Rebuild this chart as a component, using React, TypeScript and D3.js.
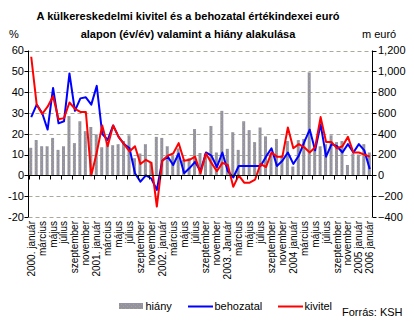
import React from "react";
import * as d3 from "d3";

const categories = [
  "2000. január","február","március","április","május","június","július","augusztus","szeptember","október","november","december",
  "2001. január","február","március","április","május","június","július","augusztus","szeptember","október","november","december",
  "2002. január","február","március","április","május","június","július","augusztus","szeptember","október","november","december",
  "2003. Január","február","március","április","május","június","július","augusztus","szeptember","október","november","december",
  "2004 január","február","március","április","május","június","július","augusztus","szeptember","október","november","december",
  "2005 január","2005 december","2006 január",
];

// hiány, m euró (right axis)
const hiany = [
  265, 340, 280, 280, 360, 245, 280, 570, 310, 520, 425, 465,
  395, 270, 320, 290, 300, 330, 385, 165, 210, 300, 130, 370,
  360, 280, 195, 260, 150, 165, 445, 215, 210, 475, 220, 620,
  255, 415, 245, 520, 435, 320, 460, 375, 210, 350, 180, 330,
  85, 340, 350, 990, 245, 280, 300, 385, 320, 330, 100, 210,
  200, 300, 220,
];

// behozatal, % (left axis)
const behozatal = [
  28, 34, 30, 22, 42, 25, 26, 49, 31, 37, 37.5, 34,
  43, 20, 17, 24, 18.5, 15, 13, 1, -3, 0, -1.5, -7,
  7, 9, 5, 10.5, 1, 3.5, 6.5, 2, 11, 9.5, 4, 11,
  2, -1, 4.5, 4.5, 4.5, 4.5, 4.5, 9, 13, 4.5, 7, 11,
  5.5, 9.5, 16, 22, 12, 24.5, 9, 15, 14, 11, 15, 11,
  15, 12, 3,
];

// kivitel, % (left axis)
const kivitel = [
  57, 34, 29.5, 33, 38, 27, 27.5, 35, 32, 30.5, 30.5, 0,
  11, 24, 14, 24, 18.5, 15, 11.5, 14, 5.5, 7.5, 6, -15,
  7, 9.5, 10.5, 15.5, 7, 7.5, 9, 1, 10.5, 6, 2, 6,
  5, -5.5, 0, -3.5, -3.5, -2, 5.5, 4, 11, 9, 9, 23,
  13, 15, 13.5, 11, 13.5, 28, 16, 16, 13, 14, 18.5, 11,
  11, 10, 9,
];

const leftTicks = [60, 50, 40, 30, 20, 10, 0, -10, -20];
const rightTicks = [1200, 1000, 800, 600, 400, 200, 0, -200, -400];
const titleLines = [
  "A külkereskedelmi kivitel és a behozatal értékindexei euró",
  "alapon (év/év) valamint a hiány alakulása",
];
const legendItems = ["hiány", "behozatal", "kivitel"];

const FONT = "'Liberation Sans', Arial, sans-serif";

export default function App() {
  const W = 414, H = 322;
  const left = 28.5, right = 372.5, top = 50.5, bottom = 217;
  const idx = d3.range(categories.length);
  const x = d3.scaleBand<number>().domain(idx).range([left, right]).padding(0);
  const step = x.step();
  const cx = (i: number) => (x(i) as number) + step / 2;
  const yL = d3.scaleLinear().domain([-20, 60]).range([bottom, top]);
  const yR = d3.scaleLinear().domain([-400, 1200]).range([bottom, top]);
  const y0 = yL(0);
  const barW = 3;

  const line = d3.line<number>().x((_, i) => cx(i)).y((v) => yL(v));

  const tickIdx = idx.filter((i) => i % 2 === 0);

  return (
    <svg width={W} height={H} style={{ position: "absolute", left: 0, top: 0, background: "#fff" }} fontFamily={FONT}>
      <defs>
        <pattern id="dots" width="4" height="4" patternUnits="userSpaceOnUse">
          <rect width="4" height="4" fill="#9393a3" />
          <rect x="1" y="0" width="1" height="1" fill="#aaa67a" />
          <rect x="3" y="2" width="1" height="1" fill="#aaa67a" />
        </pattern>
      </defs>
      <rect width={W} height={H} fill="#fff" />
      {titleLines.map((t, i) => (
        <text key={i} x={188} y={20 + i * 18} textAnchor="middle" fontSize={11} fontWeight="bold">{t}</text>
      ))}
      <text x={9} y={38} fontSize={11}>%</text>
      <text x={362} y={38} fontSize={11}>m euró</text>

      {/* gridlines */}
      {leftTicks.filter((t) => t !== 0).map((t) => (
        <line key={t} x1={left} x2={right} y1={Math.round(yL(t)) + 0.5} y2={Math.round(yL(t)) + 0.5}
          stroke="#aaa99b" strokeDasharray="4,3" />
      ))}

      {/* bars */}
      {hiany.map((v, i) => (
        <rect key={i} x={cx(i) - barW / 2 - 0.5} width={barW}
          y={Math.min(yR(v), yR(0))} height={Math.abs(yR(v) - yR(0))} fill="url(#dots)" />
      ))}

      {/* lines */}
      <path d={line(behozatal) || ""} fill="none" stroke="#0000ff" strokeWidth={2} strokeLinejoin="round" />
      <path d={line(kivitel) || ""} fill="none" stroke="#ff0000" strokeWidth={2} strokeLinejoin="round" />

      {/* left axis */}
      <line x1={left} x2={left} y1={top} y2={bottom} stroke="#000" />
      {leftTicks.map((t) => (
        <g key={t}>
          <line x1={left - 4} x2={left} y1={Math.round(yL(t)) + 0.5} y2={Math.round(yL(t)) + 0.5} stroke="#000" />
          <text x={24} y={yL(t)} dy="0.35em" textAnchor="end" fontSize={11}>{t}</text>
        </g>
      ))}

      {/* right axis */}
      <line x1={right} x2={right} y1={top} y2={bottom} stroke="#000" />
      {rightTicks.map((t) => (
        <g key={t}>
          <line x1={right} x2={right + 4} y1={Math.round(yR(t)) + 0.5} y2={Math.round(yR(t)) + 0.5} stroke="#000" />
          <text x={378} y={yR(t)} dy="0.35em" textAnchor="start" fontSize={11}>{d3.format(",")(t)}</text>
        </g>
      ))}

      {/* x axis */}
      <line x1={left} x2={right} y1={Math.round(y0) + 0.5} y2={Math.round(y0) + 0.5} stroke="#000" />
      {tickIdx.map((i) => (
        <line key={i} x1={Math.round(x(i) as number) + 0.5} x2={Math.round(x(i) as number) + 0.5}
          y1={Math.round(y0)} y2={Math.round(y0) + 4.5} stroke="#000" />
      ))}
      {tickIdx.map((i) => (
        <text key={i} transform={`translate(${cx(i)},221) rotate(-90)`} textAnchor="end" dy="0.35em" fontSize={10}>
          {categories[i]}
        </text>
      ))}

      {/* legend */}
      <rect x={119} y={303} width={24} height={6} fill="url(#dots)" />
      <text x={145.5} y={306.5} dy="0.35em" fontSize={11}>{legendItems[0]}</text>
      <line x1={188} x2={213} y1={306.5} y2={306.5} stroke="#0000ff" strokeWidth={2} />
      <text x={214.5} y={306.5} dy="0.35em" fontSize={11}>{legendItems[1]}</text>
      <line x1={278} x2={303} y1={306.5} y2={306.5} stroke="#ff0000" strokeWidth={2} />
      <text x={304.5} y={306.5} dy="0.35em" fontSize={11}>{legendItems[2]}</text>
      <text x={342} y={312.5} dy="0.35em" fontSize={11}>Forrás: KSH</text>
    </svg>
  );
}
